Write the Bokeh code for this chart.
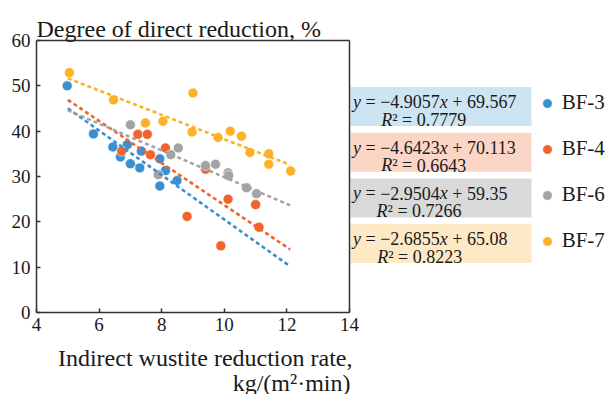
from bokeh.plotting import figure
from bokeh.models import (Range1d, FixedTicker, Label, BoxAnnotation, Legend, LegendItem,
                          LinearAxis)
from bokeh.embed import file_html
from bokeh.resources import INLINE

# ---------------- data ----------------
series_names = ["BF-3", "BF-4", "BF-6", "BF-7"]
bf3_x = [4.98, 5.82, 6.44, 6.90, 6.68, 7.35, 7.00, 7.30, 7.94, 8.12, 7.94, 8.49]
bf3_y = [50.0, 39.4, 36.5, 37.0, 34.3, 35.6, 32.8, 31.9, 33.9, 31.3, 27.9, 29.1]
bf4_x = [6.72, 7.24, 7.54, 7.64, 8.12, 9.40, 10.12, 11.00, 8.81, 11.11, 9.89]
bf4_y = [35.6, 39.3, 39.3, 34.8, 36.3, 31.6, 25.0, 23.8, 21.2, 18.8, 14.7]
bf6_x = [7.00, 8.53, 8.29, 7.89, 9.40, 9.72, 10.12, 10.14, 10.71, 11.03]
bf6_y = [41.4, 36.3, 34.8, 30.4, 32.4, 32.7, 30.8, 30.2, 27.5, 26.2]
bf7_x = [5.05, 6.46, 7.48, 8.04, 9.00, 8.97, 9.80, 10.19, 10.55, 10.82, 11.42, 11.42, 12.12]
bf7_y = [52.9, 46.9, 41.8, 42.2, 48.4, 39.8, 38.6, 40.0, 38.9, 35.3, 35.0, 32.7, 31.2]

slopes = [-4.9057, -4.6423, -2.9504, -2.6855]
intercepts = [69.567, 70.113, 59.35, 65.08]
r_squared = [0.7779, 0.6643, 0.7266, 0.8223]
trend_x = [5.0, 12.1]

x_ticks = [4, 6, 8, 10, 12, 14]
y_ticks = [0, 10, 20, 30, 40, 50, 60]

title_text = "Degree of direct reduction, %"
xlabel_line1 = "Indirect wustite reduction rate,"
xlabel_line2 = "kg/(m\u00b2\u00b7min)"

colors = ["#3a8fd0", "#f0632b", "#a3a3a3", "#fdb128"]
box_colors = ["#cde4f2", "#fbd6c6", "#d9d9d9", "#fde9c6"]

FONT = "Liberation Serif"
TXT = "#1a1a1a"
AXC = "#333333"

# ---------------- geometry of the page ----------------
W, H = 607, 394
L, R, T, B = 36, 349, 40, 312          # plot box in page pixels
XMIN, XMAX = x_ticks[0], x_ticks[-1]
YMIN, YMAX = y_ticks[0], y_ticks[-1]
sx_ = (R - L) / (XMAX - XMIN)
sy_ = (B - T) / (YMAX - YMIN)
x_start = XMIN - L / sx_
x_end = XMIN + (W - L) / sx_
y_start = YMIN - (H - B) / sy_
y_end = YMAX + T / sy_


def dx(px):
    return x_start + px / sx_


def dy(py):
    return y_end - py / sy_


p = figure(width=W, height=H, x_range=Range1d(x_start, x_end), y_range=Range1d(y_start, y_end),
           output_backend="svg", toolbar_location=None, title=None,
           x_axis_location=None, y_axis_location=None, min_border=0)
p.grid.visible = False
p.background_fill_color = "white"
p.border_fill_color = "white"
p.outline_line_color = None


def style_axis(ax):
    ax.axis_line_color = AXC
    ax.axis_line_width = 1.5
    ax.major_tick_line_color = AXC
    ax.major_tick_line_width = 1.5
    ax.major_tick_in = 4
    ax.major_tick_out = 0
    ax.minor_tick_in = 0
    ax.minor_tick_out = 0
    ax.minor_tick_line_color = None
    ax.major_label_text_font = FONT
    ax.major_label_text_font_size = "19px"
    ax.major_label_text_color = TXT


xa = LinearAxis(fixed_location=YMIN, bounds=(XMIN, XMAX), ticker=FixedTicker(ticks=x_ticks))
style_axis(xa)
xa.major_label_standoff = 5
p.add_layout(xa, "below")

ya = LinearAxis(fixed_location=XMIN, bounds=(YMIN, YMAX), ticker=FixedTicker(ticks=y_ticks))
style_axis(ya)
ya.major_label_standoff = 6
p.add_layout(ya, "left")

xt = LinearAxis(fixed_location=YMAX, bounds=(XMIN, XMAX), ticker=FixedTicker(ticks=[]))
style_axis(xt)
xt.major_label_text_color = None
p.add_layout(xt, "above")

yr = LinearAxis(fixed_location=XMAX, bounds=(YMIN, YMAX), ticker=FixedTicker(ticks=[]))
style_axis(yr)
yr.major_label_text_color = None
p.add_layout(yr, "right")

# ---------------- marks ----------------
xs = [bf3_x, bf4_x, bf6_x, bf7_x]
ys = [bf3_y, bf4_y, bf6_y, bf7_y]
renderers = []
for x, y, c in zip(xs, ys, colors):
    r = p.scatter(x, y, size=10, fill_color=c, line_color="white", line_width=0.6)
    renderers.append(r)

for m, b, c in zip(slopes, intercepts, colors):
    p.line(trend_x, [m * v + b for v in trend_x], line_color=c, line_width=2.6, line_dash="4 3")

# ---------------- texts ----------------
p.add_layout(Label(x=dx(36), y=dy(28), text=title_text, text_font=FONT, text_font_size="24px",
                   text_color=TXT, text_baseline="alphabetic", text_align="left"))
p.add_layout(Label(x=dx(352), y=dy(357), text=xlabel_line1, text_font=FONT, text_font_size="24px",
                   text_color=TXT, text_baseline="alphabetic", text_align="right"))
p.add_layout(Label(x=dx(350), y=dy(382), text=xlabel_line2, text_font=FONT, text_font_size="24px",
                   text_color=TXT, text_baseline="alphabetic", text_align="right"))

W_REG = {c: 0.5 for c in "0123456789"}
W_REG.update({'.': 0.25, ' ': 0.25, '=': 0.564, '+': 0.564, '\u2212': 0.564, '\u00b2': 0.3})
W_IT = {'y': 0.444, 'x': 0.444, 'R': 0.611}


def rich_line(px, py, text, italic_chars, size):
    runs = []
    cur, cur_it = "", None
    pos = px
    start = px
    for ch in text:
        if ch == " ":
            if cur:
                runs.append((start, cur, cur_it))
                cur = ""
            pos += W_REG[" "] * size
            continue
        it = ch in italic_chars
        if cur and it != cur_it:
            runs.append((start, cur, cur_it))
            cur = ""
        if not cur:
            start = pos
            cur_it = it
        cur += ch
        pos += (W_IT.get(ch, 0.5) if it else W_REG.get(ch, 0.5)) * size
    if cur:
        runs.append((start, cur, cur_it))
    for sx, t, it in runs:
        p.add_layout(Label(x=dx(sx), y=dy(py), text=t, text_font=FONT, text_font_size=f"{size}px",
                           text_font_style="italic" if it else "normal", text_color=TXT,
                           text_baseline="alphabetic", text_align="left"))


box_left, box_right = 350, 531
box_top0, box_pitch, box_h = 86.5, 45.7, 39
line2_x = [380.7, 380.7, 376.0, 376.7]
for i in range(4):
    top = box_top0 + i * box_pitch
    p.add_layout(BoxAnnotation(left=dx(box_left), right=dx(box_right), top=dy(top), bottom=dy(top + box_h),
                               fill_color=box_colors[i], fill_alpha=1.0, line_color=None, level="underlay"))
    eq = f"y = \u2212{abs(slopes[i]):.5g}x + {intercepts[i]:.5g}"
    rich_line(352.5, top + 14.8, eq, "yx", 18)
    rq = f"R\u00b2 = {r_squared[i]:.4g}"
    rich_line(line2_x[i], top + 32.5, rq, "R", 18)

# legend: located relative to the frame's bottom-left corner (frame == whole page)
leg_glyph, leg_spacing = 24, 21
leg_h = 4 * leg_glyph + 3 * leg_spacing
leg_top = 106 - leg_glyph / 2
legend = Legend(items=[LegendItem(label=n, renderers=[r]) for n, r in zip(series_names, renderers)],
                location=(546.7 - leg_glyph / 2, H - leg_top - leg_h), orientation="vertical",
                padding=0, margin=0, spacing=leg_spacing,
                glyph_width=leg_glyph, glyph_height=leg_glyph, label_height=leg_glyph, label_standoff=3,
                label_text_font=FONT, label_text_font_size="21px", label_text_color=TXT,
                border_line_color=None, background_fill_alpha=0)
p.add_layout(legend)

open("out.html", "w").write(file_html(p, INLINE))
